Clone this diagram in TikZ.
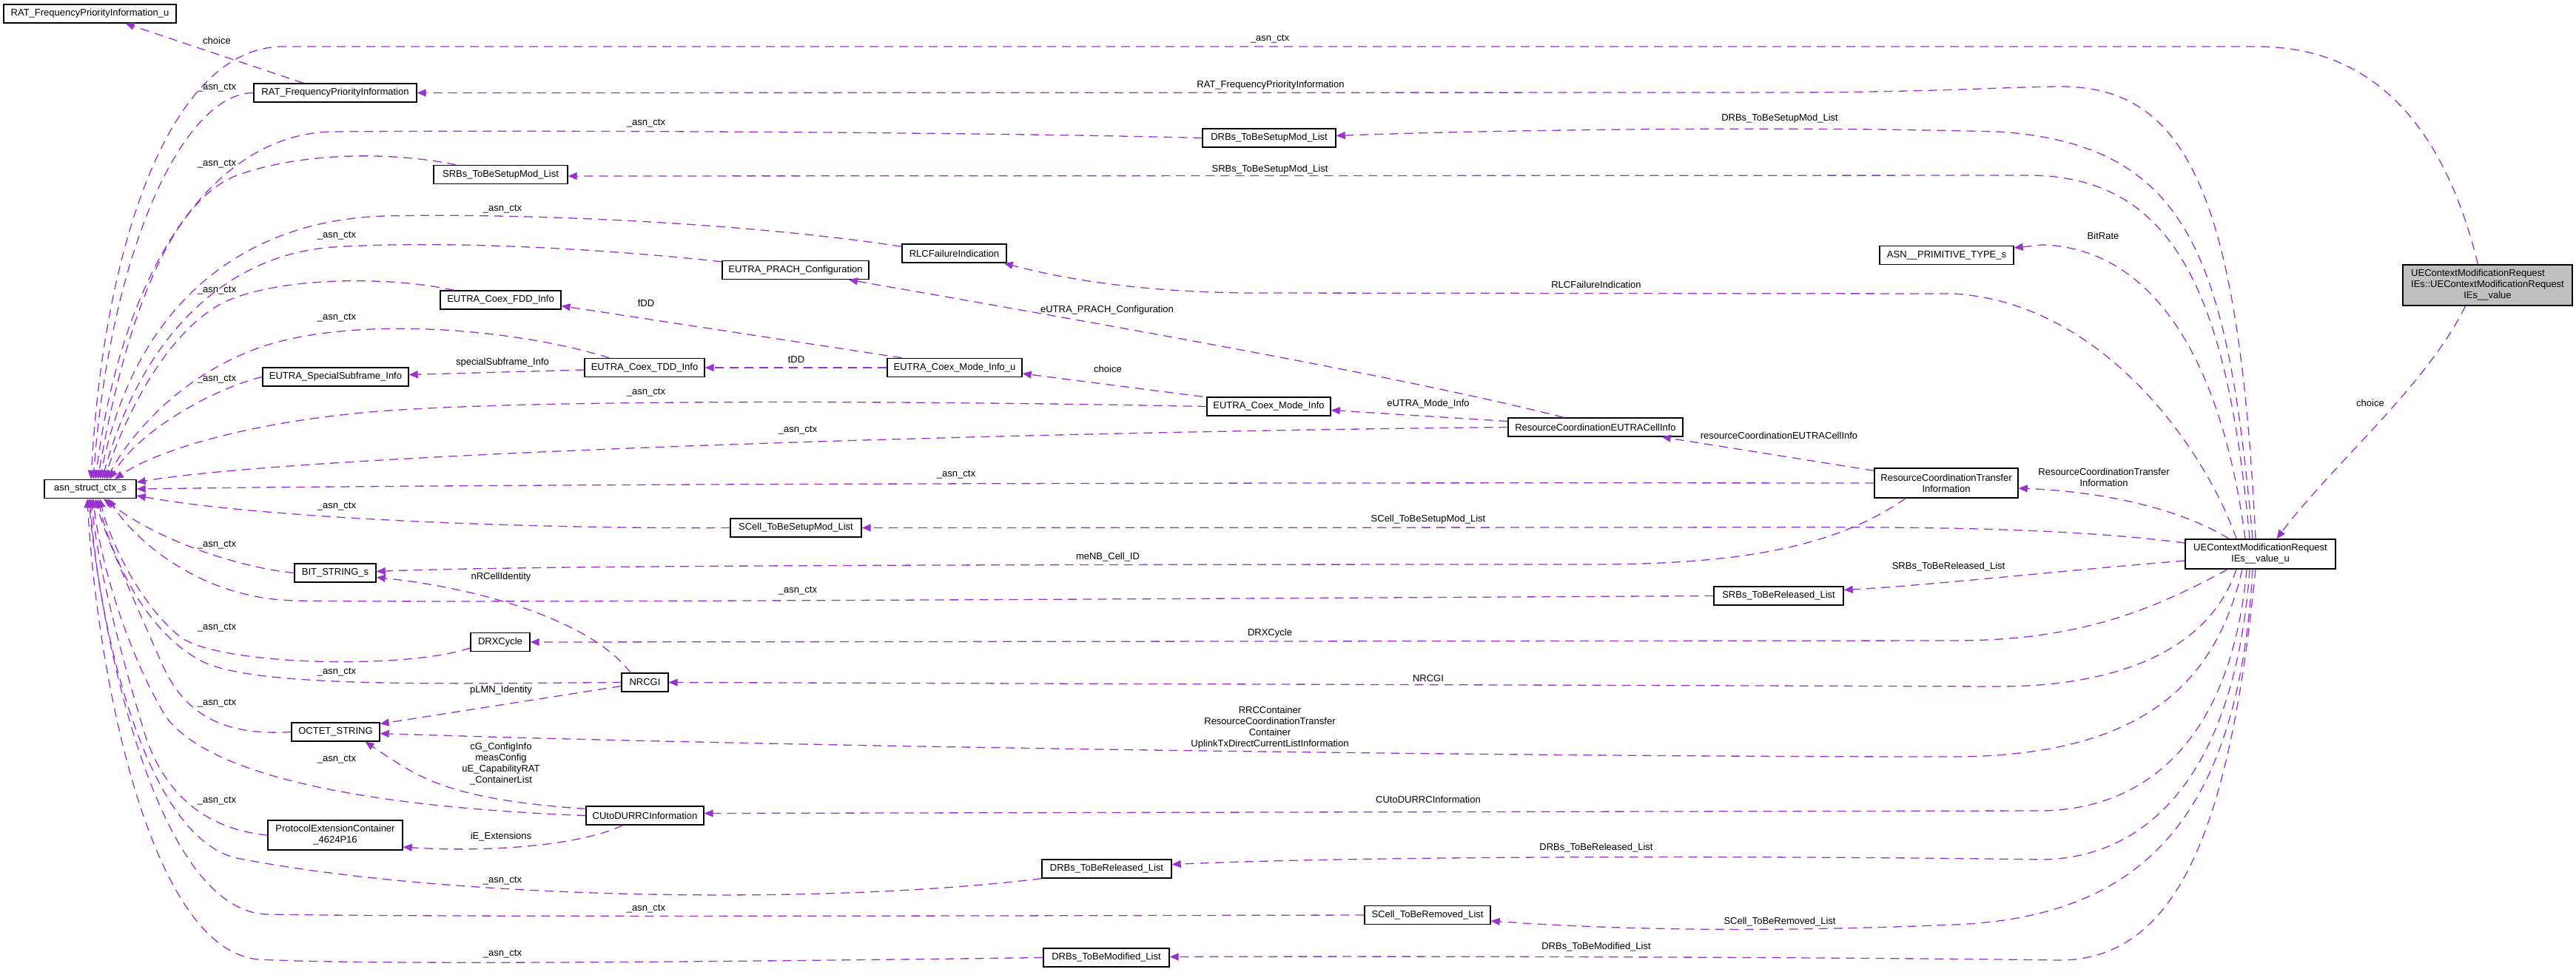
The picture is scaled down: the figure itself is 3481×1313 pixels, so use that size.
\documentclass[tikz,border=0pt]{standalone}
\usepackage{fontspec}
\setmainfont{Liberation Sans}
\usetikzlibrary{arrows.meta}
\definecolor{usage}{HTML}{9A32CD}
\definecolor{focus}{HTML}{BFBFBF}

\begin{document}
\begin{tikzpicture}[x=0.5pt,y=-0.5pt,
  every node/.style={font=\fontsize{6.5}{7.5}\selectfont, inner sep=0pt},
  cls/.style={draw=black, line width=0.7pt, fill=white, minimum height=12.5pt, align=center},
  cls2/.style={cls, minimum height=20pt},
  rel/.style={draw=usage, line width=0.65pt, dash pattern=on 6pt off 4pt,
              -{Triangle[length=6pt,width=5pt]}},
  lbl/.style={text=black, align=center}
]
\fill[white] (0,0) rectangle (3481,1313);
\useasboundingbox (0,0) rectangle (3481,1313);

% ---------- classes ----------
\node[cls, minimum width=116.5pt] (rfpu) at (121.5,18.5) {RAT\_FrequencyPriorityInformation\_u};
\node[cls, minimum width=110pt] (rfp) at (453,125.5) {RAT\_FrequencyPriorityInformation};
\node[cls, minimum width=90pt] (drbsm) at (1715,186.5) {DRBs\_ToBeSetupMod\_List};
\node[cls, minimum width=90.5pt] (srbsm) at (676.5,236) {SRBs\_ToBeSetupMod\_List};
\node[cls, minimum width=70.5pt] (rlc) at (1289.5,342.5) {RLCFailureIndication};
\node[cls, minimum width=99pt] (prach) at (1075,365) {EUTRA\_PRACH\_Configuration};
\node[cls, minimum width=90.5pt] (asnpt) at (2630.5,345) {ASN\_\_PRIMITIVE\_TYPE\_s};
\node[cls, minimum width=81.5pt] (fdd) at (676.5,405.5) {EUTRA\_Coex\_FDD\_Info};
\node[cls, minimum width=114.5pt, minimum height=27.5pt, fill=focus] (main) at (3361.5,385.5)
  {\begin{tabular}{@{}l@{}}UEContextModificationRequest\\IEs::UEContextModificationRequest\\\multicolumn{1}{@{}c@{}}{IEs\_\_value}\end{tabular}};
\node[cls, minimum width=81pt] (tdd) at (871,497) {EUTRA\_Coex\_TDD\_Info};
\node[cls, minimum width=91pt] (modeu) at (1290,497) {EUTRA\_Coex\_Mode\_Info\_u};
\node[cls, minimum width=98.5pt] (ssf) at (453.5,509.5) {EUTRA\_SpecialSubframe\_Info};
\node[cls, minimum width=83.5pt] (mode) at (1714.5,549.5) {EUTRA\_Coex\_Mode\_Info};
\node[cls, minimum width=118pt] (rceu) at (2156,577.5) {ResourceCoordinationEUTRACellInfo};
\node[cls2, minimum width=97pt] (rcti) at (2630,653) {ResourceCoordinationTransfer\\Information};
\node[cls, minimum width=62pt] (asn) at (122,661) {asn\_struct\_ctx\_s};
\node[cls, minimum width=88.5pt] (scsm) at (1075.5,713.5) {SCell\_ToBeSetupMod\_List};
\node[cls2, minimum width=101.5pt] (valu) at (3054.5,749) {UEContextModificationRequest\\IEs\_\_value\_u};
\node[cls, minimum width=55pt] (bits) at (453,774.5) {BIT\_STRING\_s};
\node[cls, minimum width=87.5pt] (srbr) at (2403.5,805.5) {SRBs\_ToBeReleased\_List};
\node[cls, minimum width=40pt] (drx) at (676,868) {DRXCycle};
\node[cls, minimum width=31.5pt] (nrcgi) at (871.5,922.5) {NRCGI};
\node[cls, minimum width=59.5pt] (octet) at (453.5,989.5) {OCTET\_STRING};
\node[cls, minimum width=79.5pt] (cutodu) at (871.5,1102.5) {CUtoDURRCInformation};
\node[cls2, minimum width=91pt] (protext) at (453,1129) {ProtocolExtensionContainer\\\_4624P16};
\node[cls, minimum width=87.5pt] (drbr) at (1495.5,1174.5) {DRBs\_ToBeReleased\_List};
\node[cls, minimum width=85pt] (scr) at (1929,1237) {SCell\_ToBeRemoved\_List};
\node[cls, minimum width=85pt] (drbm) at (1495,1294.5) {DRBs\_ToBeModified\_List};

% ---------- _asn_ctx members (into asn_struct_ctx_s) ----------
\draw[rel] ([xshift=-6.5pt]main.north) .. controls (3300,160) and (3200,63) .. (3050,63) -- (380,63)
  .. controls (230,66) and (140,330) .. ([xshift=0.5pt]asn.north);
\draw[rel] (rfp.west) .. controls (250,126) and (150,330) .. ([xshift=2pt]asn.north);
\draw[rel] (drbsm.west) .. controls (1300,178) and (700,176) .. (450,178)
  .. controls (290,180) and (165,360) .. ([xshift=3.5pt]asn.north);
\draw[rel] ([xshift=15.5pt]srbsm.north west) .. controls (530,205) and (410,205) .. (320,237)
  .. controls (230,272) and (170,430) .. ([xshift=5pt]asn.north);
\draw[rel] ([yshift=-2pt]rlc.north west) .. controls (1000,300) and (700,288) .. (520,292)
  .. controls (320,298) and (180,420) .. ([xshift=6.5pt]asn.north);
\draw[rel] ([yshift=-1pt]prach.north west) .. controls (800,335) and (600,325) .. (450,334)
  .. controls (300,345) and (190,460) .. ([xshift=8pt]asn.north);
\draw[rel] ([xshift=9.5pt]fdd.north west) .. controls (520,372) and (370,375) .. (300,410)
  .. controls (225,450) and (170,560) .. ([xshift=9.5pt]asn.north);
\draw[rel] ([xshift=17pt]tdd.north west) .. controls (700,445) and (480,425) .. (350,470)
  .. controls (240,510) and (175,590) .. ([xshift=11pt]asn.north);
\draw[rel] (ssf.west) .. controls (290,525) and (190,580) .. ([xshift=13pt]asn.north);
\draw[rel] (mode.west) .. controls (1200,541) and (700,540) .. (500,557)
  .. controls (330,572) and (210,610) .. ([xshift=16.5pt]asn.north);
\draw[rel] (rceu.west) .. controls (1300,585) and (400,615) .. ([yshift=4.5pt]asn.east);
\draw[rel] (rcti.west) .. controls (1500,652) and (600,655) .. (asn.east);
\draw[rel] (scsm.west) .. controls (700,715) and (350,700) .. ([yshift=-4.5pt]asn.east);
\draw[rel] (bits.west) .. controls (330,768) and (220,735) .. ([xshift=9pt]asn.south);
\draw[rel] (srbr.west) .. controls (1500,810) and (600,815) .. (400,812)
  .. controls (280,810) and (190,740) .. ([xshift=12pt]asn.south);
\draw[rel] ([yshift=-4pt]drx.west) .. controls (550,905) and (300,900) .. (245,862)
  .. controls (185,815) and (145,720) .. ([xshift=6.5pt]asn.south);
\draw[rel] (nrcgi.west) .. controls (600,924) and (350,930) .. (275,895)
  .. controls (195,855) and (150,750) .. ([xshift=5pt]asn.south);
\draw[rel] (octet.west) .. controls (300,995) and (250,965) .. (220,900)
  .. controls (185,820) and (140,720) .. ([xshift=3.5pt]asn.south);
\draw[rel] (cutodu.west) .. controls (520,1092) and (290,1055) .. (225,970)
  .. controls (175,890) and (135,760) .. ([xshift=2pt]asn.south);
\draw[rel] (protext.west) .. controls (290,1122) and (225,1085) .. (195,990)
  .. controls (165,890) and (130,760) .. ([xshift=1pt]asn.south);
\draw[rel] (drbr.south west) .. controls (1100,1225) and (600,1215) .. (320,1160)
  .. controls (190,1130) and (130,820) .. (asn.south);
\draw[rel] (scr.west) .. controls (1300,1238) and (600,1240) .. (360,1236)
  .. controls (210,1230) and (135,850) .. ([xshift=-1pt]asn.south);
\draw[rel] (drbm.west) .. controls (1000,1300) and (500,1305) .. (350,1297)
  .. controls (200,1285) and (130,900) .. ([xshift=-2pt]asn.south);

\node[lbl] (la1) at (1716,53) {\_asn\_ctx};
\node[lbl] (la2) at (293,119) {\_asn\_ctx};
\node[lbl] (la3) at (873,167) {\_asn\_ctx};
\node[lbl] (la4) at (293,222) {\_asn\_ctx};
\node[lbl] (la5) at (679,283) {\_asn\_ctx};
\node[lbl] (la6) at (455,319) {\_asn\_ctx};
\node[lbl] (la7) at (293,393) {\_asn\_ctx};
\node[lbl] (la8) at (455,430) {\_asn\_ctx};
\node[lbl] (la9) at (293,513) {\_asn\_ctx};
\node[lbl] (la10) at (873,531) {\_asn\_ctx};
\node[lbl] (la11) at (1078,582) {\_asn\_ctx};
\node[lbl] (la12) at (1292,642) {\_asn\_ctx};
\node[lbl] (la13) at (455,685) {\_asn\_ctx};
\node[lbl] (la14) at (293,737) {\_asn\_ctx};
\node[lbl] (la15) at (1078,799) {\_asn\_ctx};
\node[lbl] (la16) at (293,849) {\_asn\_ctx};
\node[lbl] (la17) at (455,909) {\_asn\_ctx};
\node[lbl] (la18) at (293,951) {\_asn\_ctx};
\node[lbl] (la19) at (455,1027) {\_asn\_ctx};
\node[lbl] (la20) at (293,1083) {\_asn\_ctx};
\node[lbl] (la21) at (679,1191) {\_asn\_ctx};
\node[lbl] (la22) at (873,1229) {\_asn\_ctx};
\node[lbl] (la23) at (679,1290) {\_asn\_ctx};

% ---------- members of the IEs__value union ----------
\draw[rel] ([xshift=-15pt]main.south) .. controls (3280,520) and (3150,630) .. ([xshift=11pt]valu.north);
\node[lbl] (lchoice1) at (3203,545) {choice};

\draw[rel] ([xshift=-3.25pt]valu.north) .. controls (3025,250) and (2950,115) .. (2780,117)
  .. controls (2700,118) and (2600,125) .. (2400,125) -- (rfp.east);
\node[lbl] (lrfp) at (1717,115) {RAT\_FrequencyPriorityInformation};
\draw[rel] ([xshift=-5.25pt]valu.north) .. controls (3010,350) and (2960,195) .. (2700,178)
  .. controls (2400,170) and (2000,176) .. ([yshift=1.5pt]drbsm.east);
\node[lbl] (ldrbsm) at (2405,160) {DRBs\_ToBeSetupMod\_List};
\draw[rel] ([xshift=-7.25pt]valu.north) .. controls (3010,400) and (2940,237) .. (2740,237)
  -- ([yshift=-1pt]srbsm.east);
\node[lbl] (lsrbsm) at (1716,229) {SRBs\_ToBeSetupMod\_List};
\draw[rel] ([xshift=-10.25pt]valu.north) .. controls (3000,470) and (2900,335) .. (2760,331)
  -- ([yshift=5pt]asnpt.east);
\node[lbl] (lbitrate) at (2842,319) {BitRate};
\draw[rel] ([xshift=-16.25pt]valu.north) .. controls (2985,620) and (2850,410) .. (2640,397)
  -- (1700,396) .. controls (1550,396) and (1440,378) .. ([xshift=-2pt]rlc.south east);
\node[lbl] (lrlc) at (2157,385) {RLCFailureIndication};
\draw[rel] ([xshift=-21.25pt]valu.north) .. controls (2950,690) and (2850,665) .. ([yshift=-3.5pt]rcti.east);
\node[lbl] (lrcti) at (2843,645) {ResourceCoordinationTransfer\\Information};
\draw[rel] ([yshift=7.5pt]valu.west) .. controls (2750,708) and (2500,713) .. (2200,713) -- (scsm.east);
\node[lbl] (lscsm) at (1930,702) {SCell\_ToBeSetupMod\_List};
\draw[rel] ([yshift=-4.5pt]valu.west) .. controls (2800,770) and (2600,792) .. ([yshift=4pt]srbr.east);
\node[lbl] (lsrbr) at (2633,766) {SRBs\_ToBeReleased\_List};
\draw[rel] ([xshift=-22.25pt]valu.south) .. controls (2900,830) and (2800,866) .. (2640,866) -- (drx.east);
\node[lbl] (ldrx) at (1716,856) {DRXCycle};
\draw[rel] ([xshift=-16.25pt]valu.south) .. controls (2985,880) and (2860,928) .. (2700,928) -- (nrcgi.east);
\node[lbl] (lnrcgi) at (1930,917) {NRCGI};
\draw[rel] ([xshift=-12.25pt]valu.south) .. controls (2995,920) and (2900,1022) .. (2640,1023)
  .. controls (2000,1023) and (1000,1008) .. ([yshift=-1pt]octet.east);
\node[lbl] (loctet) at (1716,984) {RRCContainer\\ResourceCoordinationTransfer\\Container\\UplinkTxDirectCurrentListInformation};
\draw[rel] ([xshift=-9.25pt]valu.south) .. controls (3015,1000) and (2900,1098) .. (2750,1096)
  -- ([yshift=1.5pt]cutodu.east);
\node[lbl] (lcutodu) at (1930,1081) {CUtoDURRCInformation};
\draw[rel] ([xshift=-7.25pt]valu.south) .. controls (3020,1050) and (2900,1160) .. (2760,1162)
  .. controls (2500,1158) and (1900,1155) .. ([yshift=3pt]drbr.east);
\node[lbl] (ldrbr) at (2157,1146) {DRBs\_ToBeReleased\_List};
\draw[rel] ([xshift=-5.25pt]valu.south) .. controls (3025,1100) and (2900,1240) .. (2640,1250)
  .. controls (2400,1260) and (2200,1258) .. ([yshift=-4pt]scr.east);
\node[lbl] (lscr) at (2405,1246) {SCell\_ToBeRemoved\_List};
\draw[rel] ([xshift=-3.25pt]valu.south) .. controls (3015,1100) and (2950,1300) .. (2780,1298)
  .. controls (2600,1295) and (2000,1292) .. ([yshift=0.5pt]drbm.east);
\node[lbl] (ldrbm) at (2157,1280) {DRBs\_ToBeModified\_List};

% ---------- other members ----------
\draw[rel] ([xshift=-21.5pt]rfp.north) -- ([xshift=24pt]rfpu.south);
\node[lbl] (lchoice2) at (293,55) {choice};
\draw[rel] ([yshift=-2pt]rcti.north west) -- ([xshift=-14.5pt]rceu.south east);
\node[lbl] (lrceu) at (2404,589) {resourceCoordinationEUTRACellInfo};
\draw[rel] ([xshift=-27.5pt]rcti.south) .. controls (2480,740) and (2350,763) .. (2150,763)
  .. controls (1200,763) and (700,765) .. ([yshift=1pt]bits.east);
\node[lbl] (lmenb) at (1497,753) {meNB\_Cell\_ID};
\draw[rel] ([yshift=4pt]rceu.west) -- ([yshift=-2.5pt]mode.east);
\node[lbl] (lmode) at (1930,546) {eUTRA\_Mode\_Info};
\draw[rel] ([xshift=-21.5pt]rceu.north) .. controls (1900,510) and (1500,440) .. ([xshift=36pt]prach.south);
\node[lbl] (lprach) at (1496,419) {eUTRA\_PRACH\_Configuration};
\draw[rel] ([xshift=-2.5pt]mode.north west) -- ([yshift=-4pt]modeu.east);
\node[lbl] (lchoice3) at (1497,499) {choice};
\draw[rel] (modeu.west) -- (tdd.east);
\node[lbl] (ltdd) at (1076,486) {tDD};
\draw[rel] ([xshift=-35.5pt]modeu.north) -- ([yshift=-4pt]fdd.east);
\node[lbl] (lfdd) at (873,410) {fDD};
\draw[rel] ([yshift=-1.5pt]tdd.west) -- ([yshift=1.5pt]ssf.east);
\node[lbl] (lssf) at (679,490) {specialSubframe\_Info};
\draw[rel] ([xshift=-9.75pt]nrcgi.north) .. controls (800,840) and (650,795) .. ([yshift=-3pt]bits.east);
\node[lbl] (lnrcell) at (677,780) {nRCellIdentity};
\draw[rel] ([yshift=-2.5pt]nrcgi.west) -- ([yshift=5.5pt]octet.east);
\node[lbl] (lplmn) at (677,933) {pLMN\_Identity};
\draw[rel] ([yshift=4.5pt]cutodu.west) .. controls (600,1080) and (565,1050) .. ([xshift=20pt]octet.south);
\node[lbl] (lcg) at (677,1033) {cG\_ConfigInfo\\measConfig\\uE\_CapabilityRAT\\\_ContainerList};
\draw[rel] ([xshift=-15pt]cutodu.south) .. controls (780,1145) and (650,1152) .. ([yshift=-8pt]protext.east);
\node[lbl] (lie) at (677,1131) {iE\_Extensions};

\end{tikzpicture}
\end{document}
